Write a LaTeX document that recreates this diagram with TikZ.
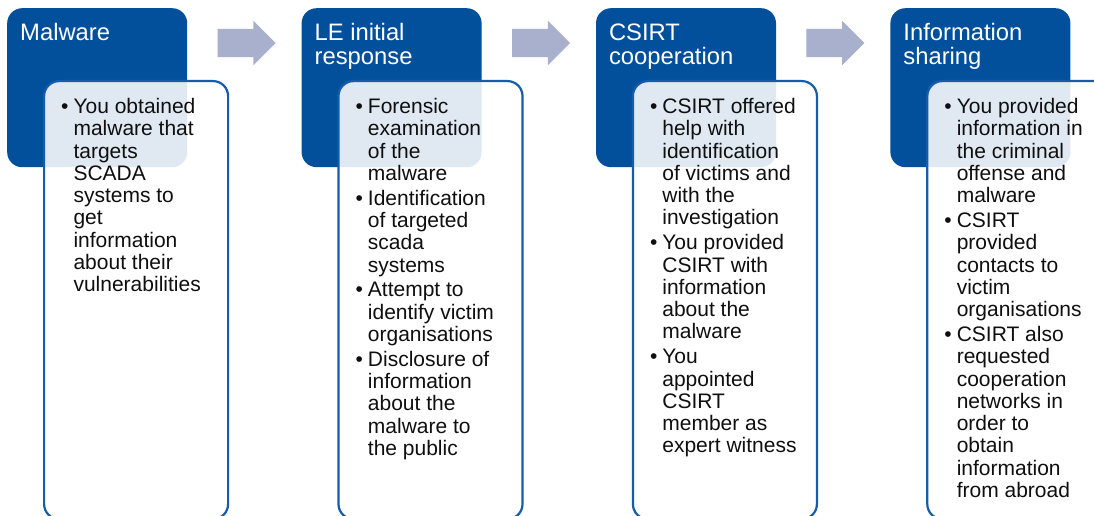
\documentclass[tikz,border=0pt]{standalone}
\usepackage{fontspec}
\setmainfont{Liberation Sans}
\usepackage{xcolor}
\usepackage{tikz}
\usetikzlibrary{positioning,shapes.arrows,calc}
\definecolor{azulcab}{RGB}{2,80,156}
\definecolor{azulborde}{RGB}{22,92,170}
\definecolor{grisflecha}{RGB}{168,176,206}
\definecolor{textocuerpo}{RGB}{15,15,15}
\newcommand{\punto}{\textbullet &}

\begin{document}
\begin{tikzpicture}[x=1pt, y=1pt,
  cabecera/.style={fill=azulcab, rounded corners=15pt, minimum width=180pt,
                   minimum height=159pt, inner sep=0pt},
  cuerpo/.style={draw=azulborde, line width=2.2pt, fill=white, fill opacity=0.88,
                 rounded corners=15pt, minimum width=184pt, minimum height=438pt,
                 inner sep=0pt},
  titulo/.style={text=white, font=\fontsize{23.8}{24}\selectfont, inner sep=0pt},
  lista/.style={text=textocuerpo, font=\fontsize{21}{22.3}\selectfont, inner sep=0pt},
  avance/.style={single arrow, fill=grisflecha, minimum height=58pt, minimum width=44pt,
                 single arrow head extend=8pt, inner xsep=0pt, inner ysep=14pt}]
  \useasboundingbox (0,0) rectangle (1094,-516);
  \fill[white] (0,0) rectangle (1094,-516);
  \clip (0,0) rectangle (1094,-516);
  % cabeceras
  \node[cabecera, anchor=north west] (cab1) at (7,-8) {};
  \node[cabecera, right=114pt of cab1] (cab2) {};
  \node[cabecera, right=114pt of cab2] (cab3) {};
  \node[cabecera, right=114pt of cab3] (cab4) {};
  % flechas entre etapas
  \node[avance, right=30pt of cab1.north east, yshift=-35pt] (fl1) {};
  \node[avance, right=30pt of cab2.north east, yshift=-35pt] (fl2) {};
  \node[avance, right=30pt of cab3.north east, yshift=-35pt] (fl3) {};
  % cajas de detalle
  \node[cuerpo, anchor=north west] (cue1) at ($(cab1.north west)+(36,-72)$) {};
  \node[cuerpo, anchor=north west] (cue2) at ($(cab2.north west)+(36,-72)$) {};
  \node[cuerpo, anchor=north west] (cue3) at ($(cab3.north west)+(36,-72)$) {};
  \node[cuerpo, anchor=north west] (cue4) at ($(cab4.north west)+(36,-72)$) {};
  % titulos
  \node[titulo, anchor=base west] (tit1) at ($(cab1.north west)+(13,-32.5)$)
    {\begin{tabular}[t]{@{}l@{}}Malware\end{tabular}};
  \node[titulo, anchor=base west] (tit2) at ($(cab2.north west)+(13,-32.5)$)
    {\begin{tabular}[t]{@{}l@{}}LE initial\\response\end{tabular}};
  \node[titulo, anchor=base west] (tit3) at ($(cab3.north west)+(13,-32.5)$)
    {\begin{tabular}[t]{@{}l@{}}CSIRT\\cooperation\end{tabular}};
  \node[titulo, anchor=base west] (tit4) at ($(cab4.north west)+(13,-32.5)$)
    {\begin{tabular}[t]{@{}l@{}}Information\\sharing\end{tabular}};
  % listas
  \node[lista, anchor=base west] (lis1) at ($(cue1.north west)+(18,-33.5)$)
    {\begin{tabular}[t]{@{}l@{\hspace{5pt}}l@{}}
      \punto You obtained\\ & malware that\\ & targets\\ & SCADA\\ & systems to\\
      & get\\ & information\\ & about their\\ & vulnerabilities
    \end{tabular}};
  \node[lista, anchor=base west] (lis2) at ($(cue2.north west)+(18,-33.5)$)
    {\begin{tabular}[t]{@{}l@{\hspace{5pt}}l@{}}
      \punto Forensic\\ & examination\\ & of the\\ & malware\\[2.5pt]
      \punto Identification\\ & of targeted\\ & scada\\ & systems\\[2.5pt]
      \punto Attempt to\\ & identify victim\\ & organisations\\[2.5pt]
      \punto Disclosure of\\ & information\\ & about the\\ & malware to\\ & the public
    \end{tabular}};
  \node[lista, anchor=base west] (lis3) at ($(cue3.north west)+(18,-33.5)$)
    {\begin{tabular}[t]{@{}l@{\hspace{5pt}}l@{}}
      \punto CSIRT offered\\ & help with\\ & identification\\ & of victims and\\
      & with the\\ & investigation\\[2.5pt]
      \punto You provided\\ & CSIRT with\\ & information\\ & about the\\ & malware\\[2.5pt]
      \punto You\\ & appointed\\ & CSIRT\\ & member as\\ & expert witness
    \end{tabular}};
  \node[lista, anchor=base west] (lis4) at ($(cue4.north west)+(18,-33.5)$)
    {\begin{tabular}[t]{@{}l@{\hspace{5pt}}l@{}}
      \punto You provided\\ & information in\\ & the criminal\\ & offense and\\
      & malware\\[2.5pt]
      \punto CSIRT\\ & provided\\ & contacts to\\ & victim\\ & organisations\\[2.5pt]
      \punto CSIRT also\\ & requested\\ & cooperation\\ & networks in\\ & order to\\
      & obtain\\ & information\\ & from abroad
    \end{tabular}};
\end{tikzpicture}
\end{document}
